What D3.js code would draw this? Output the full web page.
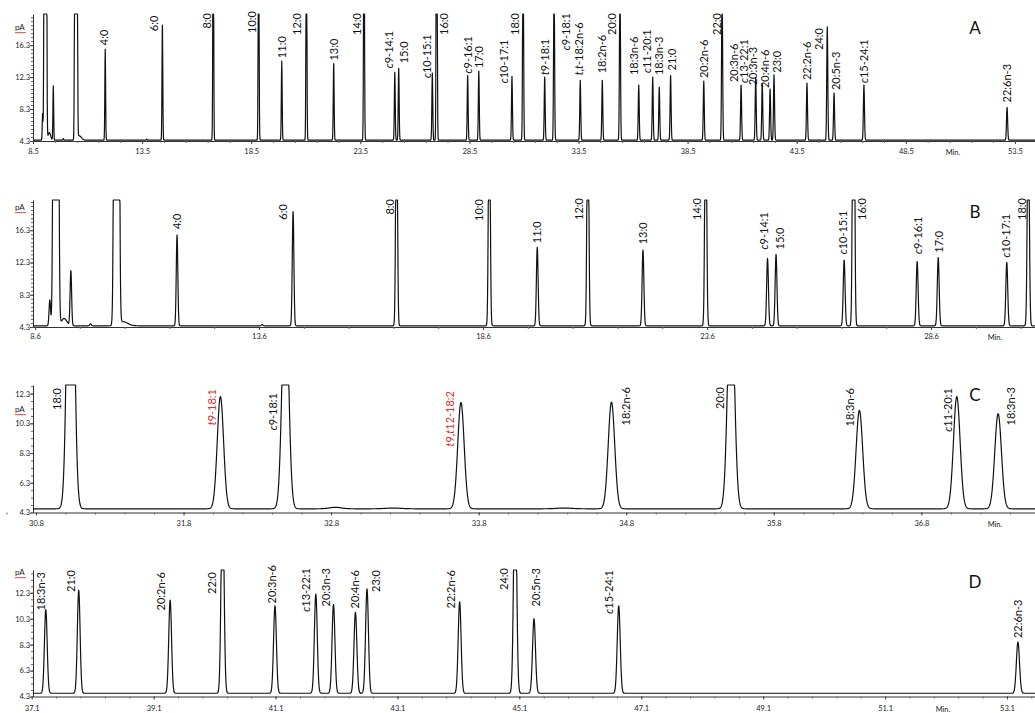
<!DOCTYPE html>
<html><head><meta charset="utf-8">
<script src="https://cdn.jsdelivr.net/npm/d3@7"></script>
<style>
body{margin:0;background:#fff}
svg{display:block}
text{font-family:Lato,"Open Sans",sans-serif}
</style>
</head><body>
<svg id="chart" width="1035" height="713"></svg>
<script>
// ---------- DATA ----------
// [name, retention time (min), peak top (pA), optional peak sigma (min)]
const peaksA = [
  ["", 8.94, 7.7], ["", 9.065, 500, 0.029], ["", 9.25, 5.35, 0.06], ["", 9.43, 11.2],
  ["", 9.89, 4.6], ["", 10.47, 500, 0.029], ["", 10.62, 4.95, 0.1], ["", 13.71, 4.55],
  ["4:0", 11.81, 15.8], ["6:0", 14.43, 18.8], ["8:0", 16.76, 38], ["10:0", 18.84, 38],
  ["11:0", 19.90, 14.3], ["12:0", 21.03, 38], ["13:0", 22.28, 14.0], ["14:0", 23.67, 38],
  ["c9-14:1", 25.08, 12.9], ["15:0", 25.26, 13.4], ["c10-15:1", 26.80, 12.8], ["16:0", 27.00, 60],
  ["c9-16:1", 28.42, 12.5], ["17:0", 28.93, 13.05], ["c10-17:1", 30.45, 12.4], ["18:0", 30.96, 33],
  ["t9-18:1", 31.95, 12.3], ["c9-18:1", 32.38, 26], ["t,t-18:2n-6", 33.58, 11.9], ["18:2n-6", 34.59, 11.9],
  ["20:0", 35.40, 26], ["18:3n-6", 36.26, 11.3], ["c11-20:1", 36.90, 12.3], ["18:3n-3", 37.20, 11.05],
  ["21:0", 37.72, 12.5], ["20:2n-6", 39.24, 11.8], ["22:0", 40.08, 24], ["20:3n-6", 40.95, 11.3],
  ["c13-22:1", 41.62, 12.2], ["20:3n-3", 41.92, 11.4], ["20:4n-6", 42.28, 10.8], ["23:0", 42.46, 12.6],
  ["22:2n-6", 43.97, 11.55], ["24:0", 44.90, 18.6], ["20:5n-3", 45.21, 10.3], ["c15-24:1", 46.58, 11.3],
  ["22:6n-3", 53.14, 8.5]
];
const peaksB = [
  ["", 8.93, 7.65], ["", 9.065, 500, 0.029], ["", 9.25, 5.35, 0.06], ["", 9.40, 11.25],
  ["", 9.84, 4.7], ["", 10.42, 500, 0.029], ["", 10.57, 4.95, 0.1], ["", 13.67, 4.6],
  ["4:0", 11.77, 15.7], ["6:0", 14.36, 18.6], ["8:0", 16.67, 38], ["10:0", 18.74, 38],
  ["11:0", 19.81, 14.2], ["12:0", 20.94, 38], ["13:0", 22.17, 13.85], ["14:0", 23.57, 38],
  ["c9-14:1", 24.95, 12.8], ["15:0", 25.14, 13.3], ["c10-15:1", 26.66, 12.6], ["16:0", 26.87, 60],
  ["c9-16:1", 28.29, 12.4], ["17:0", 28.76, 12.9], ["c10-17:1", 30.29, 12.3], ["18:0", 30.77, 33]
];
const peaksC = [
  ["18:0", 31.035, 33], ["t9-18:1", 32.05, 12.1], ["c9-18:1", 32.49, 20],
  ["", 32.83, 4.65, 0.04], ["", 33.22, 4.6, 0.05], ["t9,t12-18:2", 33.68, 11.7],
  ["", 34.38, 4.6, 0.05], ["18:2n-6", 34.70, 11.73], ["20:0", 35.51, 20],
  ["18:3n-6", 36.38, 11.17], ["c11-20:1", 37.04, 12.1], ["18:3n-3", 37.32, 10.95]
];
const peaksD = [
  ["18:3n-3", 37.33, 11.0], ["21:0", 37.87, 12.5], ["20:2n-6", 39.37, 11.74], ["22:0", 40.23, 21],
  ["20:3n-6", 41.09, 11.3], ["c13-22:1", 41.76, 12.2], ["20:3n-3", 42.05, 11.4], ["20:4n-6", 42.41, 10.8],
  ["23:0", 42.60, 12.6], ["22:2n-6", 44.12, 11.6], ["24:0", 45.03, 22], ["20:5n-3", 45.34, 10.3],
  ["c15-24:1", 46.73, 11.3], ["22:6n-3", 53.28, 8.5]
];
const baselines = {A: 4.4, B: 4.45, C: 4.55, D: 4.55};

const xTicksA = [8.5, 13.5, 18.5, 23.5, 28.5, 33.5, 38.5, 43.5, 48.5, 53.5];
const xTicksB = [8.6, 13.6, 18.6, 23.6, 28.6];
const xTicksC = [30.8, 31.8, 32.8, 33.8, 34.8, 35.8, 36.8];
const xTicksD = [37.1, 39.1, 41.1, 43.1, 45.1, 47.1, 49.1, 51.1, 53.1];
const yTicksAB = [4.3, 8.3, 12.3, 16.3];
const yTicksCD = [4.3, 6.3, 8.3, 10.3, 12.3];
const redLabelsC = ["t9-18:1", "t9,t12-18:2"];

// ---------- LAYOUT (label nudges: [dx, mode, value]; g = gap above peak, t = top y) ----------
const layoutA = {
  "4:0":[-1,"g",4], "6:0":[-8,"g",-6], "8:0":[-6,"t",13], "10:0":[-6,"t",11], "11:0":[0,"g",3],
  "12:0":[-9,"t",13], "13:0":[0,"g",3], "14:0":[-6.5,"t",13], "c9-14:1":[-6,"g",4], "15:0":[5,"g",5],
  "c10-15:1":[-5,"g",-5], "16:0":[7,"t",13], "c9-16:1":[0,"g",2], "17:0":[0,"g",3], "c10-17:1":[-8,"g",-7],
  "18:0":[-8,"t",13], "t9-18:1":[0,"g",2], "c9-18:1":[12,"t",13], "t,t-18:2n-6":[-1,"g",5],
  "18:2n-6":[0,"g",7], "20:0":[-8,"t",13], "18:3n-6":[-5,"g",10], "c11-20:1":[-6,"g",4],
  "18:3n-3":[0,"g",12], "21:0":[2,"g",5], "20:2n-6":[0,"g",3], "22:0":[-5,"t",13], "20:3n-6":[-7,"g",3],
  "c13-22:1":[-12,"g",-5], "20:3n-3":[-9,"g",-1], "20:4n-6":[-5,"g",1], "23:0":[3,"g",2],
  "22:2n-6":[0,"g",3], "24:0":[-8,"t",28], "20:5n-3":[2,"g",3], "c15-24:1":[0,"g",2], "22:6n-3":[0,"g",5]
};
const layoutB = {
  "4:0":[0,"g",6], "6:0":[-10,"g",-8], "8:0":[-6,"t",199], "10:0":[-10,"t",199], "11:0":[0,"g",4],
  "12:0":[-8.5,"t",198], "13:0":[0,"g",5.7], "14:0":[-9,"t",198], "c9-14:1":[-3,"g",9], "15:0":[4,"g",5],
  "c10-15:1":[-1,"g",5.7], "16:0":[9,"t",198], "c9-16:1":[1,"g",7.7], "17:0":[1,"g",5],
  "c10-17:1":[-1,"g",5], "18:0":[-6,"t",198]
};
const layoutC = {
  "18:0":[-13,"t",388], "t9-18:1":[-8,"t",389], "c9-18:1":[-12,"t",393], "t9,t12-18:2":[-11,"t",391],
  "18:2n-6":[15,"t",387], "20:0":[-11,"t",387], "18:3n-6":[-9,"t",388], "c11-20:1":[-9,"t",388],
  "18:3n-3":[13,"t",387]
};
const layoutD = {
  "18:3n-3":[-5,"t",572], "21:0":[-7.5,"t",570], "20:2n-6":[-9,"t",572], "22:0":[-10,"t",572],
  "20:3n-6":[-2.5,"t",565], "c13-22:1":[-10,"t",568], "20:3n-3":[-7.5,"t",568], "20:4n-6":[0,"t",570],
  "23:0":[9,"t",570], "22:2n-6":[-8.5,"t",570], "24:0":[-11,"t",568], "20:5n-3":[2,"t",568],
  "c15-24:1":[-9.5,"t",570], "22:6n-3":[0,"g",4]
};

const panels = [
  {key:"A", peaks:peaksA, layout:layoutA, xTicks:xTicksA, yTicks:yTicksAB, minor:1,
   xDomain:[8.5, 54.42], yDomain:[4.3, 20.2], top:14, bottom:141, pad:5, pAy:30, letterY:34, minX:953},
  {key:"B", peaks:peaksB, layout:layoutB, xTicks:xTicksB, yTicks:yTicksAB, minor:1,
   xDomain:[8.555, 30.92], yDomain:[4.3, 20.05], top:200, bottom:327, pad:4, pAy:210, letterY:218, minX:995},
  {key:"C", peaks:peaksC, layout:layoutC, xTicks:xTicksC, yTicks:yTicksCD, minor:0.2,
   xDomain:[30.78, 37.57], yDomain:[4.3, 12.88], top:385, bottom:512.5, pad:5, pAy:412, letterY:401, minX:995},
  {key:"D", peaks:peaksD, layout:layoutD, xTicks:xTicksD, yTicks:yTicksCD, minor:0.4,
   xDomain:[37.12, 53.56], yDomain:[4.3, 14.06], top:570, bottom:696.5, pad:6, pAy:575, letterY:588, minX:943}
];

const X0 = 33, X1 = 1035;
const svg = d3.select("#chart");
const defs = svg.append("defs");

function sigmaOf(p){ return p[3] !== undefined ? p[3] : 0.015 + 0.0002 * p[1]; }

panels.forEach((P, i) => {
  const g = svg.append("g");
  const x = d3.scaleLinear().domain(P.xDomain).range([X0, X1]);
  const y = d3.scaleLinear().domain(P.yDomain).range([P.bottom, P.top]);
  const base = baselines[P.key];
  const ymax = P.yDomain[1];

  defs.append("clipPath").attr("id", "clip" + i).append("rect")
    .attr("x", X0).attr("y", P.top - 2).attr("width", X1 - X0).attr("height", P.bottom - P.top + 6);

  // signal sampled over time
  const ts = [];
  const step = (P.xDomain[1] - P.xDomain[0]) / ((X1 - X0) * 4);
  for (let t = P.xDomain[0]; t <= P.xDomain[1]; t += step) ts.push(t);
  P.peaks.forEach(p => { if (p[1] >= P.xDomain[0] && p[1] <= P.xDomain[1]) ts.push(p[1]); });
  ts.sort((a, b) => a - b);
  const signal = t => {
    let v = base;
    for (const p of P.peaks) {
      const s = sigmaOf(p), d = (t - p[1]) / s;
      if (Math.abs(d) < 12) v += (p[2] - base) * Math.exp(-0.5 * d * d);
    }
    return Math.min(v, ymax);
  };
  const pts = ts.map(t => [t, signal(t)]);
  const line = d3.line().x(d => x(d[0])).y(d => y(d[1]));

  // axes
  const xMinor = [];
  const mStart = P.xTicks[0] - P.minor * Math.ceil((P.xTicks[0] - P.xDomain[0]) / P.minor);
  for (let t = mStart; t <= P.xDomain[1] + 1e-9; t += P.minor) xMinor.push(+t.toFixed(3));
  g.append("g").attr("transform", `translate(0,${P.bottom})`)
    .call(d3.axisBottom(x).tickValues(xMinor).tickSize(2).tickSizeOuter(0).tickFormat(""))
    .call(a => a.select(".domain").attr("stroke", "#333"))
    .call(a => a.selectAll(".tick line").attr("stroke", "#666"));
  g.append("g").attr("transform", `translate(0,${P.bottom})`)
    .call(d3.axisBottom(x).tickValues(P.xTicks).tickSize(3).tickSizeOuter(0).tickPadding(P.pad).tickFormat(d3.format(".1f")))
    .call(a => a.select(".domain").remove())
    .call(a => a.selectAll("text").attr("font-size", 7.5).attr("fill", "#222").attr("font-family", "Lato,sans-serif"))
    .call(a => a.selectAll(".tick line").attr("stroke", "#444"));

  const yMinor = [];
  for (let v = P.yDomain[0]; v <= ymax + 1e-9; v += 0.5) yMinor.push(+v.toFixed(2));
  g.append("g").attr("transform", `translate(${X0},0)`)
    .call(d3.axisLeft(y).tickValues(yMinor).tickSize(2).tickSizeOuter(0).tickFormat(""))
    .call(a => a.select(".domain").attr("stroke", "#333"))
    .call(a => a.selectAll(".tick line").attr("stroke", "#666"));
  g.append("g").attr("transform", `translate(${X0},0)`)
    .call(d3.axisLeft(y).tickValues(P.yTicks).tickSize(3).tickSizeOuter(0).tickPadding(0).tickFormat(d3.format(".1f")))
    .call(a => a.select(".domain").remove())
    .call(a => a.selectAll("text").attr("font-size", 7.5).attr("fill", "#222").attr("font-family", "Lato,sans-serif"))
    .call(a => a.selectAll(".tick line").attr("stroke", "#444"));

  // trace
  g.append("path").datum(pts).attr("clip-path", `url(#clip${i})`)
    .attr("d", line).attr("fill", "none").attr("stroke", "#111")
    .attr("stroke-width", 1.2).attr("stroke-linejoin", "round");

  // peak labels
  P.peaks.filter(p => p[0] && P.layout[p[0]]).forEach(p => {
    const [dx, mode, v] = P.layout[p[0]];
    const px = x(p[1]) + dx;
    const topY = y(Math.min(p[2], ymax));
    const ay = mode === "t" ? v : topY - v;
    const red = P.key === "C" && redLabelsC.includes(p[0]);
    const txt = g.append("text")
      .attr("transform", `translate(${px},${ay}) rotate(-90)`)
      .attr("dy", "0.35em")
      .attr("text-anchor", mode === "t" ? "end" : "start")
      .attr("font-size", 11)
      .attr("fill", red ? "#e0302c" : "#111");
    p[0].split(/([ct])/).filter(s => s).forEach(s => {
      txt.append("tspan").text(s).attr("font-style", (s === "c" || s === "t") ? "italic" : null);
    });
  });

  // unit, panel letter, Min.
  g.append("text").attr("x", 15).attr("y", P.pAy).attr("font-size", 8).attr("fill", "#222").text("pA");
  let wave = `M15,${P.pAy + 2}`;
  for (let k = 0; k < 6; k++) wave += ` l1,${k % 2 ? -1.2 : 1.2}`;
  for (let k = 0; k < 5; k++) wave += ` l1,${k % 2 ? -1.2 : 1.2}`;
  g.append("path").attr("d", wave).attr("fill", "none").attr("stroke", "#d33").attr("stroke-width", 0.8);
  g.append("text").attr("x", 975).attr("y", P.letterY).attr("text-anchor", "middle")
    .attr("font-size", 17).attr("fill", "#111").text(P.key);
  g.append("text").attr("x", P.minX).attr("y", P.bottom + P.pad + 3 + 6)
    .attr("text-anchor", "middle").attr("font-size", 7.5).attr("fill", "#222").text("Min.");
});
</script>
</body></html>
